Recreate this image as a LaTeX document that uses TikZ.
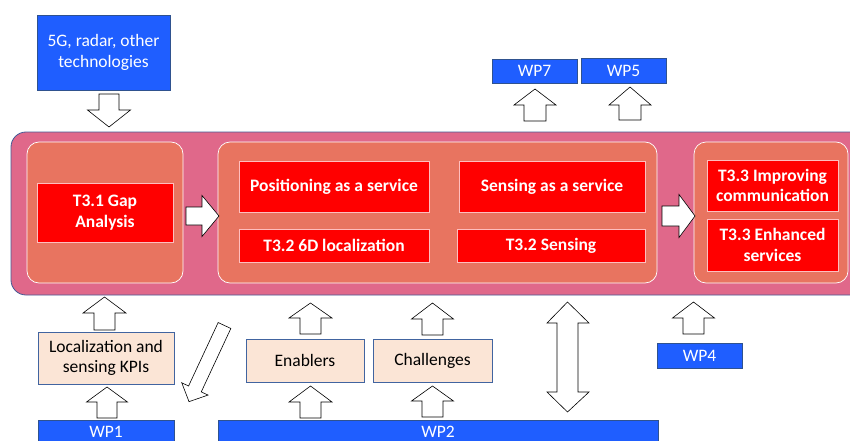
\documentclass[tikz,border=0pt]{standalone}
\usepackage{fontspec}
\setmainfont{Carlito}
\begin{document}
\begin{tikzpicture}[x=1pt,y=-1pt,
  every node/.style={inner sep=0pt, align=center, font=\fontsize{17.5}{20.5}\selectfont},
  bluebox/.style={draw=blueedge, fill=wpblue, text=white, line width=0.6pt},
  band/.style={draw=bandedge, fill=bandpink, line width=0.8pt, rounded corners=15pt},
  group/.style={draw=white, fill=salmon, line width=0.7pt, rounded corners=12pt},
  task/.style={draw=taskedge, fill=taskred, text=white, line width=0.6pt, font=\fontsize{17.5}{20.5}\selectfont\bfseries},
  input/.style={draw=peachedge, fill=peach, text=black, line width=0.7pt},
  barrow/.style={draw=black, fill=white, line width=0.6pt, line join=miter},
  pics/blockarrow/.style n args={4}{code={
    \draw[barrow] (0,-#2/2) -- (#1-#4,-#2/2) -- (#1-#4,-#3/2) -- (#1,0)
      -- (#1-#4,#3/2) -- (#1-#4,#2/2) -- (0,#2/2) -- cycle;}}
]
\definecolor{wpblue}{RGB}{31,94,255}
\definecolor{blueedge}{RGB}{47,82,143}
\definecolor{bandpink}{RGB}{224,104,138}
\definecolor{bandedge}{RGB}{68,90,150}
\definecolor{salmon}{RGB}{232,116,96}
\definecolor{taskred}{RGB}{255,0,0}
\definecolor{taskedge}{RGB}{255,190,190}
\definecolor{peach}{RGB}{251,229,214}
\definecolor{peachedge}{RGB}{65,100,160}

\useasboundingbox (0,0) rectangle (850,441);
\clip (0,0) rectangle (850,441);

% outer band holding the three task groups
\node[band, minimum width=859pt, minimum height=163pt] (band) at (440.5,213.5) {};

% task groups
\node[group, minimum width=156pt, minimum height=141pt] (g1) at (105,212.5) {};
\node[group, minimum width=439pt, minimum height=141pt] (g2) at (437.5,212.5) {};
\node[group, minimum width=154pt, minimum height=141pt] (g3) at (771,212.5) {};

% tasks
\node[task, minimum width=136pt, minimum height=59pt] (gap) at (105,212.5) {T3.1 Gap\\Analysis};
\node[task, minimum width=190pt, minimum height=51pt] (pos) at (334,186.5) {Positioning as a service};
\node[task, minimum width=186pt, minimum height=51pt] (sens) at (552,186.5) {Sensing as a service};
\node[task, minimum width=190pt, minimum height=33pt] (loc) at (334,245.5) {T3.2 6D localization};
\node[task, minimum width=188pt, minimum height=33pt] (sens32) at (551,245.5) {T3.2 Sensing};
\node[task, minimum width=131pt, minimum height=51pt] (impr) at (772.5,185.5) {T3.3 Improving\\communication};
\node[task, minimum width=131pt, minimum height=52pt] (enh) at (772.5,245) {T3.3 Enhanced\\services};

% work packages and inputs
\node[bluebox, minimum width=133pt, minimum height=75pt] (tech) at (103.5,52.5) {5G, radar, other\\technologies};
\node[bluebox, minimum width=85pt, minimum height=24pt] (wp7) at (534.5,71) {WP7};
\node[bluebox, minimum width=85pt, minimum height=25pt] (wp5) at (623.5,70.5) {WP5};
\node[bluebox, minimum width=85pt, minimum height=25pt] (wp4) at (699.5,355.5) {WP4};
\node[bluebox, minimum width=136pt, minimum height=24pt] (wp1) at (106,432) {WP1};
\node[bluebox, minimum width=440pt, minimum height=24pt] (wp2) at (438,432) {WP2};
\node[input, minimum width=136pt, minimum height=52pt] (kpi) at (106,358) {Localization and\\sensing KPIs};
\node[input, minimum width=118pt, minimum height=43pt] (enab) at (305,360.5) {Enablers};
\node[input, minimum width=119pt, minimum height=43pt] (chal) at (432.5,360.5) {Challenges};

% block arrows: length, shaft width, head width, head length
\pic[rotate=-90] at (109,94) {blockarrow={33}{20}{43}{17}};
\pic at (186,216) {blockarrow={33}{18}{41}{17}};
\pic at (662,216) {blockarrow={33}{20}{43}{16}};
\pic[rotate=90] at (535,121) {blockarrow={32}{22}{42}{16}};
\pic[rotate=90] at (630,120) {blockarrow={33}{22}{42}{18}};
\pic[rotate=90] at (104.5,330) {blockarrow={33}{21}{43}{16}};
\pic[rotate=90] at (107,418) {blockarrow={31}{20}{41}{15}};
\pic[rotate=90] at (310.5,334) {blockarrow={31}{21}{43}{15}};
\pic[rotate=90] at (310.5,418) {blockarrow={32}{21}{43}{16}};
\pic[rotate=90] at (432.5,335) {blockarrow={32}{21}{42}{16}};
\pic[rotate=90] at (432.5,417) {blockarrow={31}{21}{42}{15}};
\pic[rotate=90] at (693.5,334) {blockarrow={32}{21}{42}{16}};
\pic[rotate=245] at (224.5,325.5) {blockarrow={84}{14}{29}{14}};

% two-way arrow between WP2 and the band
\draw[barrow] (567.5,302) -- (589,323) -- (578,323) -- (578,392) -- (589,392)
  -- (567.5,412) -- (547,392) -- (557,392) -- (557,323) -- (547,323) -- cycle;
\end{tikzpicture}
\end{document}
